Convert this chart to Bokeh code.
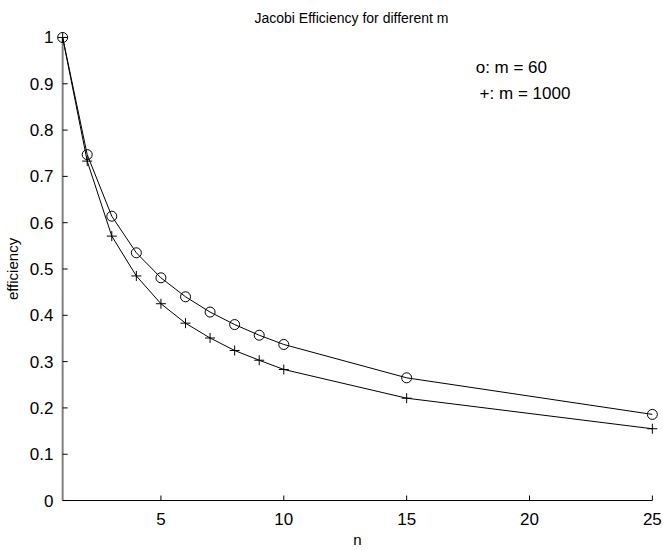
import math
from bokeh.plotting import figure
from bokeh.models import Range1d, FixedTicker, Label, CustomJSTickFormatter
from bokeh.embed import file_html
from bokeh.resources import INLINE

n_vals = [1, 2, 3, 4, 5, 6, 7, 8, 9, 10, 15, 25]
eff_m60 = [1.0, 0.747, 0.614, 0.535, 0.481, 0.440, 0.407, 0.380, 0.357, 0.337, 0.265, 0.186]
eff_m1000 = [1.0, 0.733, 0.571, 0.485, 0.425, 0.383, 0.351, 0.324, 0.303, 0.283, 0.221, 0.155]
x_ticks = [5, 10, 15, 20, 25]
y_ticks = [0, 0.1, 0.2, 0.3, 0.4, 0.5, 0.6, 0.7, 0.8, 0.9, 1.0]
title_text = "Jacobi Efficiency for different m"
legend_lines = ["o: m = 60", "+: m = 1000"]

FONT = "Liberation Sans"
XMIN, XMAX, YMIN, YMAX = 1, 25, 0, 1
xpad, ypad = 0.25, 0.0129

p = figure(width=663, height=550, output_backend="svg", toolbar_location=None,
           x_range=Range1d(XMIN - xpad, XMAX + xpad),
           y_range=Range1d(YMIN - ypad, YMAX + ypad))
p.min_border_left = 55
p.min_border_right = 5
p.min_border_top = 31
p.min_border_bottom = 40
p.outline_line_color = None
p.xgrid.visible = False
p.ygrid.visible = False
p.background_fill_color = "white"
p.border_fill_color = "white"

p.title.text = title_text
p.title.align = "left"
p.title.offset = 198
p.title.text_font = FONT
p.title.text_font_style = "normal"
p.title.text_font_size = "14px"
p.title.text_color = "black"
p.title.standoff = 12

for ax in (p.xaxis[0], p.yaxis[0]):
    ax.major_label_text_font = FONT
    ax.major_label_text_font_size = "17px"
    ax.major_label_text_color = "black"
    ax.axis_label_text_font = FONT
    ax.axis_label_text_font_size = "15px"
    ax.axis_label_text_font_style = "normal"
    ax.axis_label_text_color = "black"
    ax.major_tick_line_color = None
    ax.minor_tick_line_color = None
    ax.axis_line_color = None

p.xaxis.ticker = FixedTicker(ticks=x_ticks)
p.yaxis.ticker = FixedTicker(ticks=y_ticks)
p.yaxis.formatter = CustomJSTickFormatter(code="return (Math.round(tick*10)/10).toString();")
p.xaxis.axis_label = "n"
p.yaxis.axis_label = "efficiency"
p.yaxis.major_label_standoff = -3
p.xaxis.major_label_standoff = 0
p.xaxis.axis_label_standoff = 3
p.yaxis.axis_label_standoff = 6

# axis lines drawn at the data limits
p.segment(x0=[XMIN], y0=[YMIN], x1=[XMIN], y1=[YMAX], line_color="#808080", line_width=2)
p.segment(x0=[XMIN], y0=[YMIN], x1=[XMAX], y1=[YMIN], line_color="black", line_width=1)
# inward tick marks
p.ray(x=[XMIN] * len(y_ticks), y=y_ticks, length=5, length_units="screen",
      angle=0, line_color="black", line_width=1)
p.ray(x=x_ticks, y=[YMIN] * len(x_ticks), length=5, length_units="screen",
      angle=math.pi / 2, line_color="black", line_width=1)

p.line(n_vals, eff_m60, line_color="black", line_width=1)
p.scatter(n_vals, eff_m60, marker="circle", size=10, fill_color=None,
          line_color="black", line_width=1)
p.line(n_vals, eff_m1000, line_color="black", line_width=1)
p.scatter(n_vals, eff_m1000, marker="cross", size=10, line_color="black", line_width=1)

p.add_layout(Label(x=17.81, y=0.936, text=legend_lines[0], text_font=FONT,
                   text_font_size="17px", text_color="black", text_baseline="middle"))
p.add_layout(Label(x=17.97, y=0.878, text=legend_lines[1], text_font=FONT,
                   text_font_size="17px", text_color="black", text_baseline="middle"))

open("out.html", "w").write(file_html(p, INLINE))
